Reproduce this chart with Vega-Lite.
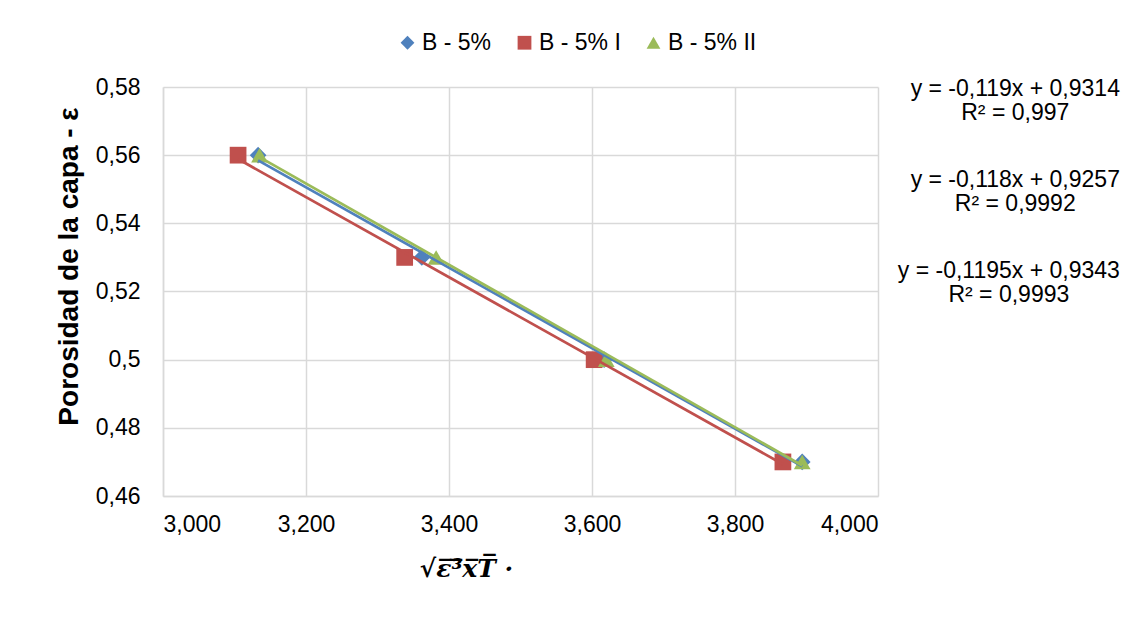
{
  "$schema": "https://vega.github.io/schema/vega-lite/v6.json",
  "width": 715,
  "height": 409,
  "autosize": {"type": "none"},
  "padding": {"left": 163, "top": 87, "right": 251, "bottom": 121},
  "background": "white",
  "config": {
    "locale": {"number": {"decimal": ",", "thousands": ".", "grouping": [3], "currency": ["", ""]}},
    "font": "Liberation Sans",
    "view": {"stroke": null}
  },
  "datasets": {
    "pts": [
      {"serie": "B - 5%", "x": 3.133, "y": 0.56},
      {"serie": "B - 5%", "x": 3.362, "y": 0.53},
      {"serie": "B - 5%", "x": 3.617, "y": 0.50},
      {"serie": "B - 5%", "x": 3.894, "y": 0.47},
      {"serie": "B - 5% I", "x": 3.105, "y": 0.56},
      {"serie": "B - 5% I", "x": 3.338, "y": 0.53},
      {"serie": "B - 5% I", "x": 3.603, "y": 0.50},
      {"serie": "B - 5% I", "x": 3.867, "y": 0.47},
      {"serie": "B - 5% II", "x": 3.135, "y": 0.56},
      {"serie": "B - 5% II", "x": 3.382, "y": 0.53},
      {"serie": "B - 5% II", "x": 3.620, "y": 0.50},
      {"serie": "B - 5% II", "x": 3.894, "y": 0.47}
    ],
    "eqs": [
      {"x": 4.192, "y": 0.5794, "label": "y = -0,119x + 0,9314"},
      {"x": 4.192, "y": 0.5724, "label": "R² = 0,997"},
      {"x": 4.192, "y": 0.5527, "label": "y = -0,118x + 0,9257"},
      {"x": 4.192, "y": 0.5457, "label": "R² = 0,9992"},
      {"x": 4.183, "y": 0.5260, "label": "y = -0,1195x + 0,9343"},
      {"x": 4.183, "y": 0.5190, "label": "R² = 0,9993"}
    ]
  },
  "encoding": {
    "x": {
      "field": "x", "type": "quantitative",
      "scale": {"domain": [3.0, 4.0], "zero": false, "nice": false},
      "axis": {
        "values": [3.0, 3.2, 3.4, 3.6, 3.8, 4.0],
        "format": ".3f",
        "ticks": false,
        "labelFontSize": 23,
        "labelColor": "#000000",
        "labelPadding": 17,
        "domainColor": "#D9D9D9",
        "domainWidth": 1.5,
        "gridColor": "#D9D9D9",
        "gridWidth": 1.5,
        "title": "√ε̅³̅x̅T̅     ·",
        "titleFont": "DejaVu Serif",
        "titleFontStyle": "italic",
        "titleFontWeight": "bold",
        "titleFontSize": 25,
        "titleColor": "#000000",
        "titleX": 303,
        "titleY": 60,
        "titleBaseline": "top"
      }
    },
    "y": {
      "field": "y", "type": "quantitative",
      "scale": {"domain": [0.46, 0.58], "zero": false, "nice": false},
      "axis": {
        "values": [0.46, 0.48, 0.5, 0.52, 0.54, 0.56, 0.58],
        "format": ".2~f",
        "ticks": false,
        "labelFontSize": 23,
        "labelColor": "#000000",
        "labelPadding": 23,
        "domainColor": "#D9D9D9",
        "domainWidth": 1.5,
        "gridColor": "#D9D9D9",
        "gridWidth": 1.5,
        "title": "Porosidad de la capa - ε",
        "titleFontSize": 28,
        "titleFontWeight": "bold",
        "titleColor": "#000000",
        "titleX": -80,
        "titleY": 179
      }
    }
  },
  "layer": [
    {
      "data": {"name": "pts"},
      "mark": {"type": "point", "filled": true, "opacity": 1, "size": 280},
      "encoding": {
        "color": {
          "field": "serie", "type": "nominal",
          "scale": {"domain": ["B - 5%", "B - 5% I", "B - 5% II"], "range": ["#4F81BD", "#C0504D", "#9BBB59"]},
          "legend": {
            "orient": "none",
            "legendX": 233,
            "legendY": -56,
            "direction": "horizontal",
            "title": null,
            "labelFontSize": 23,
            "labelColor": "#000000",
            "symbolSize": 190,
            "symbolStrokeWidth": 0,
            "labelOffset": 3,
            "columnPadding": 21
          }
        },
        "shape": {
          "field": "serie", "type": "nominal",
          "scale": {"domain": ["B - 5%", "B - 5% I", "B - 5% II"], "range": ["diamond", "square", "triangle-up"]}
        }
      }
    },
    {
      "data": {"name": "pts"},
      "transform": [{"regression": "y", "on": "x", "groupby": ["serie"]}],
      "mark": {"type": "line", "strokeWidth": 2.75},
      "encoding": {
        "stroke": {
          "field": "serie", "type": "nominal",
          "scale": {"domain": ["B - 5%", "B - 5% I", "B - 5% II"], "range": ["#4F81BD", "#C0504D", "#9BBB59"]},
          "legend": null
        }
      }
    },
    {
      "data": {"name": "eqs"},
      "mark": {"type": "text", "fontSize": 23, "color": "#000000", "align": "center", "baseline": "middle"},
      "encoding": {
        "text": {"field": "label", "type": "nominal"}
      }
    }
  ]
}
